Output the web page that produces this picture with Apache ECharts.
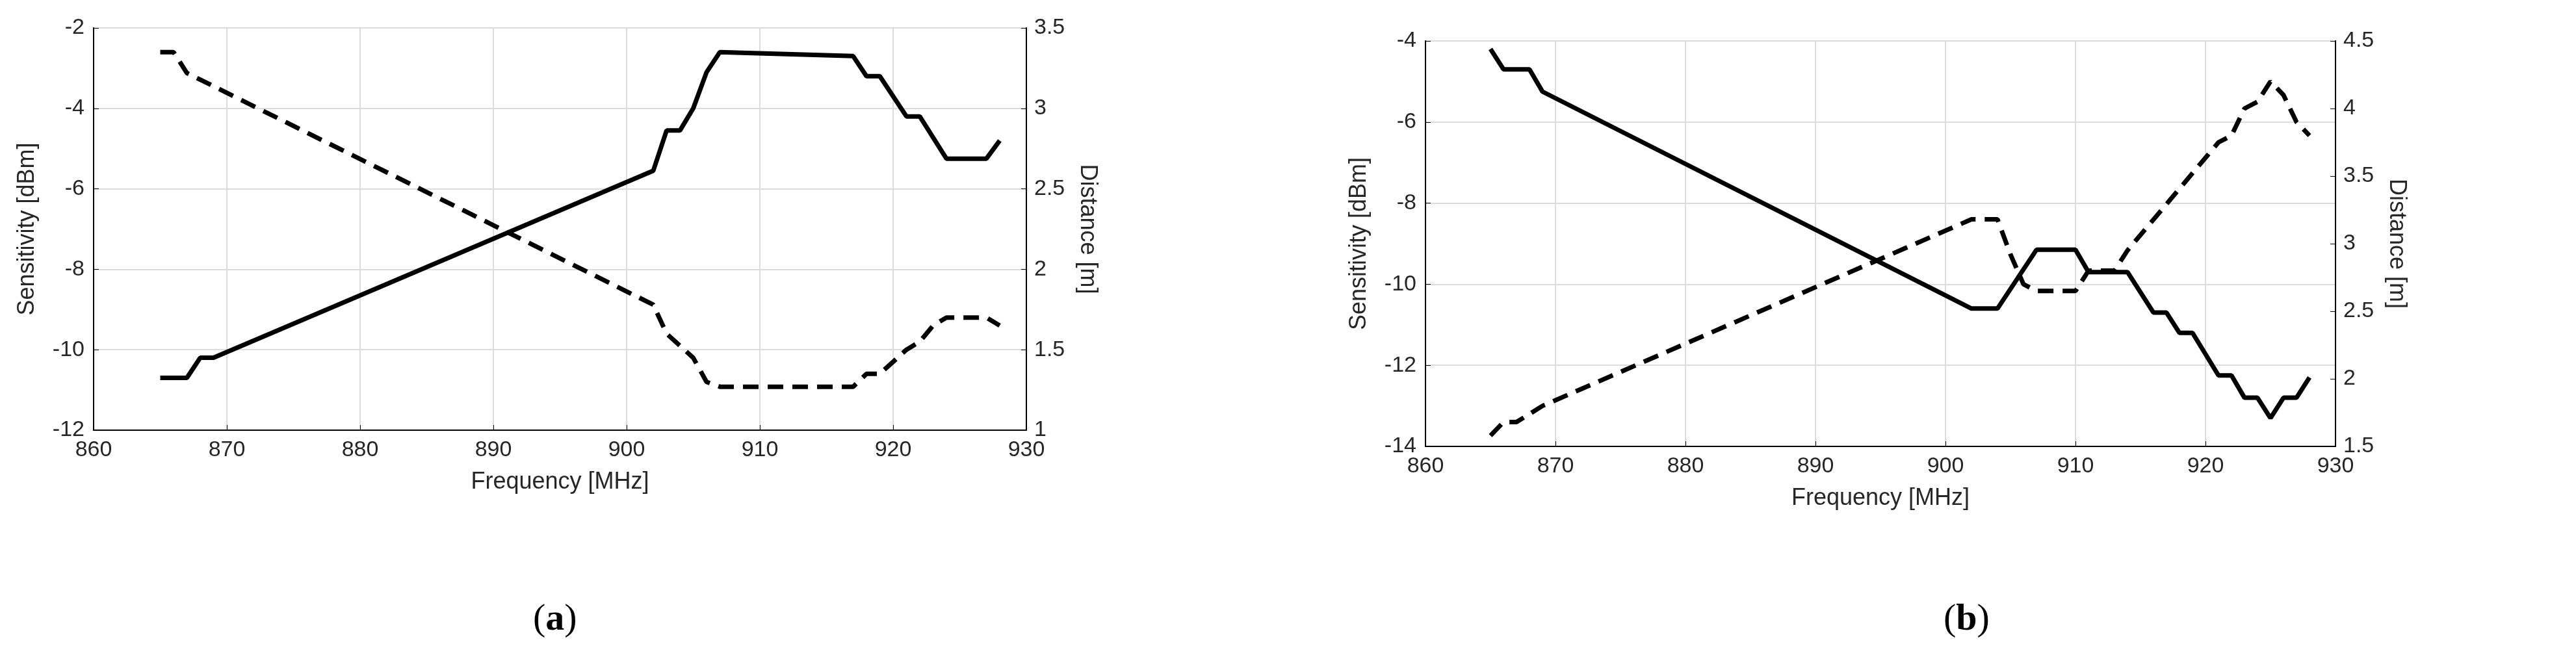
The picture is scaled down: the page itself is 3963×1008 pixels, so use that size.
<!DOCTYPE html>
<html><head><meta charset="utf-8">
<script src="https://cdn.jsdelivr.net/npm/echarts@6/dist/echarts.min.js"></script>
<style>html,body{margin:0;padding:0;background:#fff}#c{width:3963px;height:1008px}</style>
</head><body><div id="c"></div>
<script>
// panel (a)
const sensA = [[865,-10.7],[867,-10.7],[868,-10.2],[869,-10.2],[902,-5.55],[903,-4.55],[904,-4.55],[905,-4.0],[906,-3.1],[907,-2.6],[917,-2.7],[918,-3.2],[919,-3.2],[921,-4.2],[922,-4.2],[924,-5.25],[927,-5.25],[928,-4.8]]
const distA = [[865,3.35],[866,3.35],[867,3.22],[902,1.78],[903,1.6],[905,1.45],[906,1.3],[907,1.27],[917,1.27],[918,1.35],[919,1.35],[921,1.5],[922,1.55],[923,1.65],[924,1.7],[927,1.7],[928,1.65]]
// panel (b)
const sensB = [[865,-4.2],[866,-4.7],[868,-4.7],[869,-5.25],[902,-10.6],[904,-10.6],[907,-9.15],[910,-9.15],[911,-9.7],[914,-9.7],[916,-10.7],[917,-10.7],[918,-11.2],[919,-11.2],[921,-12.25],[922,-12.25],[923,-12.8],[924,-12.8],[925,-13.3],[926,-12.8],[927,-12.8],[928,-12.3]]
const distB = [[865,1.58],[866,1.68],[867,1.68],[869,1.8],[902,3.18],[904,3.18],[905,2.92],[906,2.7],[907,2.65],[910,2.65],[911,2.8],[913,2.8],[914,2.95],[921,3.75],[922,3.8],[923,4.0],[924,4.05],[925,4.2],[926,4.1],[927,3.9],[928,3.8]]
const freqMin = 860, freqMax = 930

const txt = '#262626', fs = 34
function xAx(i){
  return {type:'value',gridIndex:i,min:freqMin,max:freqMax,interval:10,
    name:'Frequency [MHz]',nameLocation:'middle',nameGap:62,
    nameTextStyle:{color:txt,fontSize:36,fontFamily:'Liberation Sans'},
    axisLine:{lineStyle:{color:'#000',width:2}},axisTick:{inside:true,length:8,lineStyle:{color:'#000'}},
    axisLabel:{color:txt,fontSize:fs,fontFamily:'Liberation Sans',margin:14},
    splitLine:{show:true,lineStyle:{color:'#dcdcdc',width:2}}}
}
function yL(i,min,max,name){
  return {type:'value',gridIndex:i,min:min,max:max,interval:2,position:'left',
    name:name,nameLocation:'middle',nameGap:84,
    nameTextStyle:{color:txt,fontSize:36,fontFamily:'Liberation Sans'},
    axisLine:{show:true,lineStyle:{color:'#000',width:2}},axisTick:{show:true,inside:true,length:8,lineStyle:{color:'#000'}},
    axisLabel:{color:txt,fontSize:fs,fontFamily:'Liberation Sans',margin:14},
    splitLine:{show:true,lineStyle:{color:'#dcdcdc',width:2}}}
}
function yR(i,min,max){
  return {type:'value',gridIndex:i,min:min,max:max,interval:0.5,position:'right',
    name:'Distance [m]',nameLocation:'middle',nameGap:76,nameRotate:-90,
    nameTextStyle:{color:txt,fontSize:36,fontFamily:'Liberation Sans'},
    axisLine:{show:true,lineStyle:{color:'#000',width:2}},axisTick:{show:true,inside:true,length:8,lineStyle:{color:'#000'}},
    axisLabel:{color:txt,fontSize:fs,fontFamily:'Liberation Sans',margin:12},
    splitLine:{show:false}}
}
function ln(data,xi,yi,dash){
  return {type:'line',xAxisIndex:xi,yAxisIndex:yi,data:data,symbol:'none',silent:true,
    lineStyle:{color:'#000',width:7,type:dash?[24,14]:'solid'}}
}
const chart = echarts.init(document.getElementById('c'))
chart.setOption({
  backgroundColor:'#fff',animation:false,
  grid:[{left:144,width:1435,top:43,height:619,show:true,borderColor:'#000',borderWidth:2},
        {left:2193,width:1400,top:63,height:624,show:true,borderColor:'#000',borderWidth:2}],
  xAxis:[xAx(0),xAx(1)],
  yAxis:[yL(0,-12,-2,'Sensitivity [dBm]'),yR(0,1,3.5),yL(1,-14,-4,'Sensitivity [dBm]'),yR(1,1.5,4.5)],
  series:[ln(sensA,0,0,false),ln(distA,0,1,true),ln(sensB,1,2,false),ln(distB,1,3,true)],
  graphic:[
    {type:'text',left:820,top:925,style:{rich:{p:{fontSize:58,fontFamily:'Liberation Serif',fill:'#000'},b:{fontSize:58,fontWeight:'bold',fontFamily:'Liberation Serif',fill:'#000'}},text:'{p|(}{b|a}{p|)}'}},
    {type:'text',left:2990,top:925,style:{rich:{p:{fontSize:58,fontFamily:'Liberation Serif',fill:'#000'},b:{fontSize:58,fontWeight:'bold',fontFamily:'Liberation Serif',fill:'#000'}},text:'{p|(}{b|b}{p|)}'}}
  ]
})
</script></body></html>
